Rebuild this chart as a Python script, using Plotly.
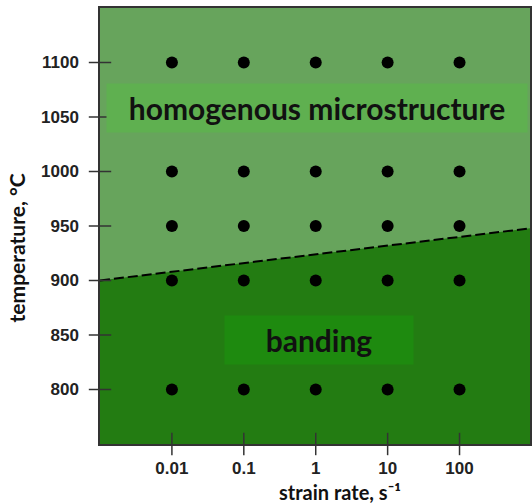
import plotly.graph_objects as go

# ---- data ----
strain_rates = [0.01, 0.1, 1, 10, 100]
temperatures = [1100, 1000, 950, 900, 800]
boundary_x = [0.001, 1000]
boundary_t = [900, 948]
x_tickvals = [0.01, 0.1, 1, 10, 100]
x_ticktext = ["0.01", "0.1", "1", "10", "100"]
y_tickvals = [800, 850, 900, 950, 1000, 1050, 1100]
region_labels = ["homogenous microstructure", "banding"]

LIGHT = "#67a45c"
DARK = "#237c12"
X_RANGE = [-3, 2.98]
Y_RANGE = [750, 1150]
X_MIN = 10 ** X_RANGE[0]

pts_x = [x for t in temperatures for x in strain_rates]
pts_y = [t for t in temperatures for x in strain_rates]

fig = go.Figure()

# lower (banding) region
fig.add_trace(go.Scatter(x=boundary_x, y=boundary_t, mode="lines",
                         line=dict(color="black", width=2, dash="10px,4px"),
                         fill="tozeroy", fillcolor=DARK,
                         hoverinfo="skip", showlegend=False))
# data points
fig.add_trace(go.Scatter(x=pts_x, y=pts_y, mode="markers",
                         marker=dict(color="black", size=12),
                         showlegend=False))
# tick marks that cross the axis lines
fig.add_trace(go.Scatter(x=x_tickvals, y=[Y_RANGE[0]] * len(x_tickvals), mode="markers",
                         marker=dict(symbol="line-ns", size=16,
                                     line=dict(color="#333", width=1.5)),
                         cliponaxis=False, hoverinfo="skip", showlegend=False))
fig.add_trace(go.Scatter(x=[X_MIN] * len(y_tickvals), y=y_tickvals, mode="markers",
                         marker=dict(symbol="line-ew", size=16,
                                     line=dict(color="#333", width=1.5)),
                         cliponaxis=False, hoverinfo="skip", showlegend=False))

tickfont = dict(family="Liberation Sans, Arial", size=17, color="#222", weight="bold")

fig.update_layout(
    width=532, height=503,
    margin=dict(l=100, r=0, t=8, b=59),
    paper_bgcolor="white",
    plot_bgcolor=LIGHT,
    xaxis=dict(type="log", range=X_RANGE, tickvals=x_tickvals, ticktext=x_ticktext,
               ticks="", showline=True, linecolor="#333", linewidth=1.5, mirror=True,
               showgrid=False, zeroline=False, tickfont=tickfont,
               ticklabelstandoff=8),
    yaxis=dict(range=Y_RANGE, tickvals=y_tickvals,
               ticks="", showline=True, linecolor="#333", linewidth=1.5, mirror=True,
               showgrid=False, zeroline=False, tickfont=tickfont,
               ticklabelstandoff=16),
)

label_font = dict(family="Lato, Carlito, sans-serif", size=30, color="#111", weight="bold")
fig.add_annotation(x=0.015, y=1058, xref="x", yref="y", text=region_labels[0],
                   showarrow=False, font=label_font, bgcolor="#5fb050",
                   width=418, height=46)
fig.add_annotation(x=0.04, y=845, xref="x", yref="y", text=region_labels[1],
                   showarrow=False, font=label_font, bgcolor="#1e8a0f",
                   width=186, height=46)

title_font = dict(family="Lato, Carlito, sans-serif", size=20, color="#111", weight="bold")
fig.add_annotation(x=0.558, y=-0.11, xref="paper", yref="paper",
                   text="strain rate, s⁻¹", showarrow=False,
                   font=title_font, xanchor="center", yanchor="middle")
fig.add_annotation(x=-0.194, y=0.45, xref="paper", yref="paper",
                   text="temperature, °C", showarrow=False, textangle=-90,
                   font=dict(family="Lato, Carlito, sans-serif", size=21, color="#111", weight="bold"),
                   xanchor="center", yanchor="middle")

fig.write_html("out.html")
